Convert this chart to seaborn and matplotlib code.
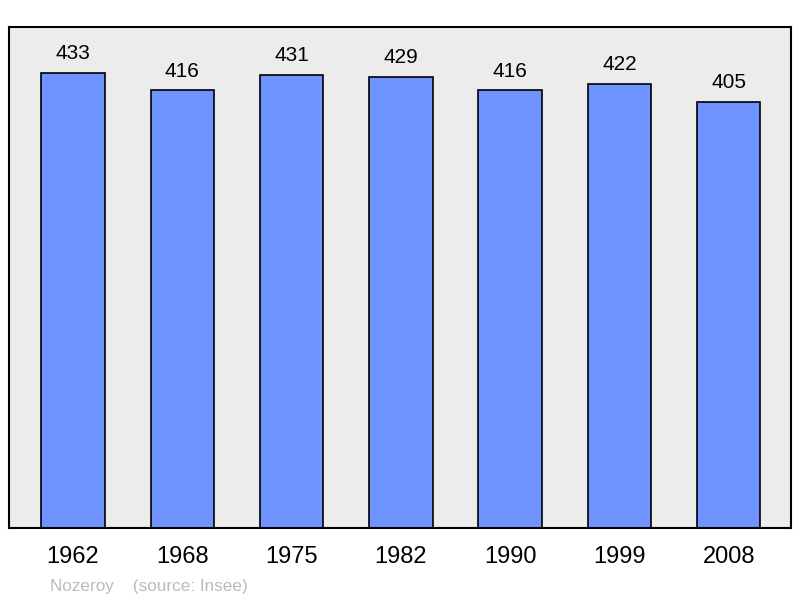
import matplotlib
matplotlib.use("Agg")
import matplotlib.pyplot as plt
import pandas as pd
import seaborn as sns

years = ["1962", "1968", "1975", "1982", "1990", "1999", "2008"]
population = [433, 416, 431, 429, 416, 422, 405]

df = pd.DataFrame({"year": years, "population": population})

sns.set_style("white")
plt.rcParams["font.family"] = ["Liberation Sans", "DejaVu Sans"]
plt.rcParams["text.color"] = "black"
plt.rcParams["xtick.color"] = "black"

fig = plt.figure(figsize=(8, 5.98), dpi=100)
ax = fig.add_axes([0.01125, 0.1171, 0.9775, 0.8377])
ax.set_facecolor("#ececec")

sns.barplot(data=df, x="year", y="population", color="#7094ff",
            saturation=1, width=0.58, edgecolor="black", linewidth=1.2, ax=ax)

for i, v in enumerate(population):
    ax.annotate(str(v), (i, v), xytext=(0, 7), textcoords="offset points",
                ha="center", va="bottom", fontsize=15)

ax.set_xlim(-0.585, 6.57)
ax.set_ylim(0, max(population) * 1.1)
ax.set_yticks([])
ax.set_xlabel("")
ax.set_ylabel("")
ax.tick_params(axis="x", length=0, labelsize=17, pad=13)
for s in ax.spines.values():
    s.set_visible(True)
    s.set_color("black")
    s.set_linewidth(1.5)

fig.text(0.0625, 0.012, "Nozeroy    (source: Insee)", color="#bbbbbb",
         fontsize=12.3)

fig.savefig("out.png", dpi=100)
